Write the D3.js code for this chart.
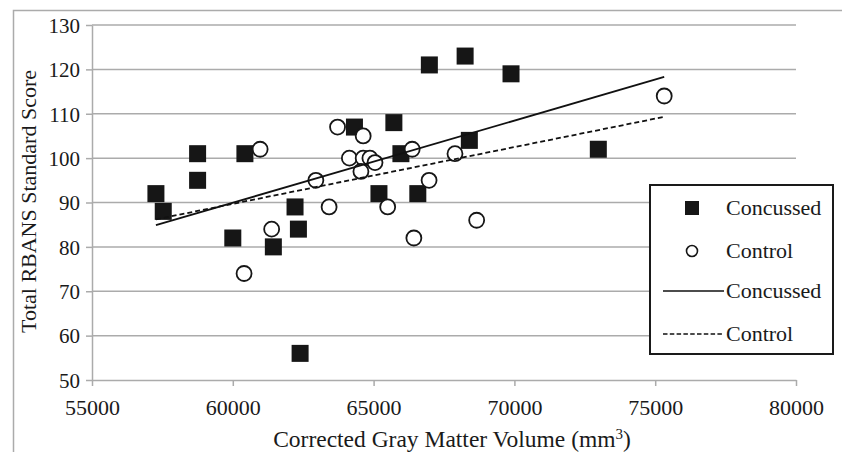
<!DOCTYPE html>
<html>
<head>
<meta charset="utf-8">
<script src="https://cdn.jsdelivr.net/npm/d3@7"></script>
<style>
  body { margin: 0; background: #fff; }
  svg { display: block; }
  svg text { font-family: "Liberation Serif", "DejaVu Serif", serif !important; fill: #1a1a1a; }
  .grid line { stroke: #ababab; stroke-width: 1.5; }
  .axis path, .axis line { stroke: #ababab; stroke-width: 1.5; }
</style>
</head>
<body>
<svg id="chart" width="842" height="452" font-family="Liberation Serif"></svg>
<script>
// values
const concussedX = [57270, 57530, 58750, 58750, 60430, 60000, 62210, 62330, 61440, 62390,
                    64320, 65720, 65970, 68400, 65190, 66570, 66980, 68250, 69880, 72980];
const concussedY = [92, 88, 101, 95, 101, 82, 89, 84, 80, 56,
                    107, 108, 101, 104, 92, 92, 121, 123, 119, 102];
const controlX = [60970, 61380, 60400, 62950, 63720, 64630, 64140, 64630, 64870, 65050,
                  64550, 66370, 67890, 66970, 63420, 65500, 66430, 68660, 75320];
const controlY = [102, 84, 74, 95, 107, 105, 100, 100, 100, 99,
                  97, 102, 101, 95, 89, 89, 82, 86, 114];
// trend line end points
const fitX = [57270, 75320];
const concussedFitY = [84.9, 118.3];
const controlFitY = [86.2, 109.3];

const xTicks = [55000, 60000, 65000, 70000, 75000, 80000];
const yTicks = [50, 60, 70, 80, 90, 100, 110, 120, 130];
const legendLabels = ["Concussed", "Control", "Concussed", "Control"];

var svg = d3.select("#chart");

var margin = {top: 25, right: 46, bottom: 72, left: 92},
  width = 842 - margin.left - margin.right,
  height = 452 - margin.top - margin.bottom;

// outer frame
svg.append("rect")
  .attr("x", 13.5).attr("y", 10.5)
  .attr("width", 900).attr("height", 500)
  .attr("fill", "none")
  .attr("stroke", "#ababab")
  .attr("stroke-width", 1.5);

var x = d3.scaleLinear().domain([55000, 80000]).range([0, width]);
var y = d3.scaleLinear().domain([50, 130]).range([height, 0]);

var g = svg.append("g")
  .attr("transform", "translate(" + margin.left + "," + margin.top + ")");

// horizontal gridlines
g.append("g").attr("class", "grid")
  .selectAll("line")
  .data(yTicks.slice(1))
  .enter().append("line")
  .attr("x1", 0).attr("x2", width)
  .attr("y1", function(d) { return y(d); })
  .attr("y2", function(d) { return y(d); });

var xAxis = d3.axisBottom(x).tickValues(xTicks).tickSize(6).tickSizeOuter(0).tickFormat(d3.format("d"));
var yAxis = d3.axisLeft(y).tickValues(yTicks).tickSize(6).tickSizeOuter(0);

var gX = g.append("g")
  .attr("class", "x axis")
  .attr("transform", "translate(0," + height + ")")
  .call(xAxis)
  .attr("font-family", null);
gX.selectAll("text")
  .attr("y", 19).attr("dy", "0.71em")
  .style("font-size", "22px");

var gY = g.append("g")
  .attr("class", "y axis")
  .call(yAxis)
  .attr("font-family", null);
gY.selectAll("text")
  .attr("x", -12).attr("dy", "0.35em")
  .style("font-size", "21px");

// axis titles
var xTitle = svg.append("text")
  .attr("x", 452)
  .attr("y", 447)
  .attr("text-anchor", "middle")
  .style("font-size", "23.5px");
xTitle.append("tspan").text("Corrected Gray Matter Volume (mm");
xTitle.append("tspan").attr("dy", -8).style("font-size", "15px").text("3");
xTitle.append("tspan").attr("dy", 8).text(")");

svg.append("text")
  .attr("transform", "translate(28.5,201.5) rotate(-90)")
  .attr("text-anchor", "middle")
  .attr("dominant-baseline", "central")
  .style("font-size", "22px")
  .text("Total RBANS Standard Score");

// points
var concussed = concussedX.map(function(d, i) { return {x: d, y: concussedY[i]}; });
var control = controlX.map(function(d, i) { return {x: d, y: controlY[i]}; });

var sq = 17;
g.selectAll(".sq")
  .data(concussed)
  .enter().append("rect")
  .attr("class", "sq")
  .attr("x", function(d) { return x(d.x) - sq / 2; })
  .attr("y", function(d) { return y(d.y) - sq / 2; })
  .attr("width", sq).attr("height", sq)
  .attr("fill", "#161616");

g.selectAll(".ci")
  .data(control)
  .enter().append("circle")
  .attr("class", "ci")
  .attr("cx", function(d) { return x(d.x); })
  .attr("cy", function(d) { return y(d.y); })
  .attr("r", 7.5)
  .attr("fill", "#fff")
  .attr("stroke", "#161616")
  .attr("stroke-width", 1.8);

// trend lines
var line = d3.line()
  .x(function(d) { return x(d[0]); })
  .y(function(d) { return y(d[1]); });

g.append("path")
  .datum(fitX.map(function(d, i) { return [d, concussedFitY[i]]; }))
  .attr("d", line)
  .attr("fill", "none")
  .attr("stroke", "#111")
  .attr("stroke-width", 1.8);

g.append("path")
  .datum(fitX.map(function(d, i) { return [d, controlFitY[i]]; }))
  .attr("d", line)
  .attr("fill", "none")
  .attr("stroke", "#111")
  .attr("stroke-width", 1.8)
  .attr("stroke-dasharray", "5,3");

// legend
var legend = svg.append("g").attr("transform", "translate(650,185)");
legend.append("rect")
  .attr("width", 183).attr("height", 169)
  .attr("fill", "#fff")
  .attr("stroke", "#1a1a1a")
  .attr("stroke-width", 2);

var rowY = [23, 66, 106, 149];
legend.append("rect")
  .attr("x", 35).attr("y", rowY[0] - 7)
  .attr("width", 14).attr("height", 14)
  .attr("fill", "#161616");
legend.append("circle")
  .attr("cx", 42).attr("cy", rowY[1])
  .attr("r", 5.5)
  .attr("fill", "#fff")
  .attr("stroke", "#161616")
  .attr("stroke-width", 1.6);
legend.append("line")
  .attr("x1", 13).attr("x2", 74)
  .attr("y1", rowY[2]).attr("y2", rowY[2])
  .attr("stroke", "#111").attr("stroke-width", 1.5);
legend.append("line")
  .attr("x1", 13).attr("x2", 74)
  .attr("y1", rowY[3]).attr("y2", rowY[3])
  .attr("stroke", "#111").attr("stroke-width", 1.4)
  .attr("stroke-dasharray", "4.5,2.3");

legend.selectAll(".lab")
  .data(legendLabels)
  .enter().append("text")
  .attr("class", "lab")
  .attr("x", 76)
  .attr("y", function(d, i) { return rowY[i]; })
  .attr("dy", "0.32em")
  .style("font-size", "22px")
  .text(function(d) { return d; });
</script>
</body>
</html>
